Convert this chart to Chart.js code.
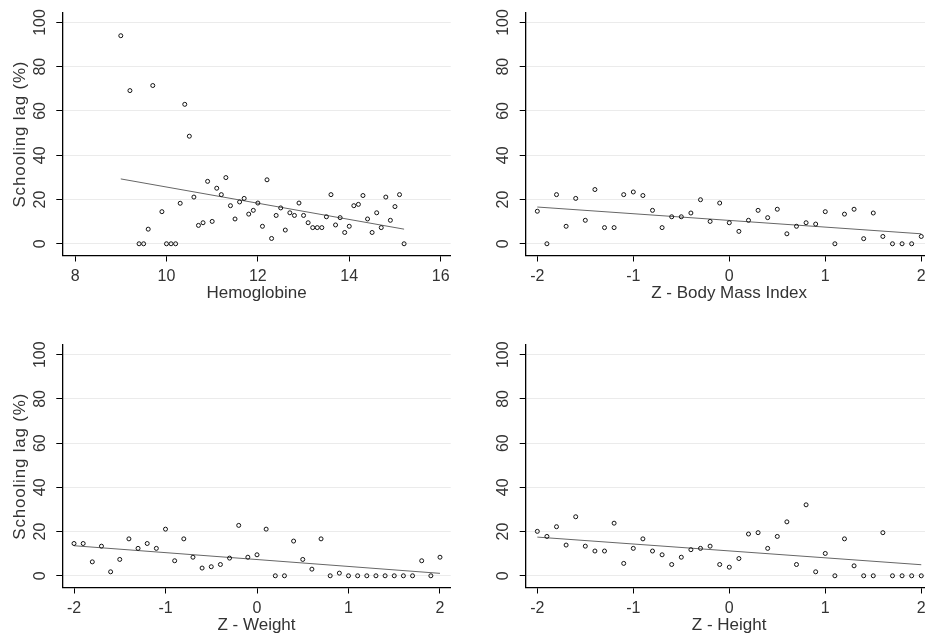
<!DOCTYPE html>
<html>
<head>
<meta charset="utf-8">
<script src="https://cdn.jsdelivr.net/npm/chart.js@4.4.1/dist/chart.umd.min.js"></script>
<style>
  html, body { margin: 0; padding: 0; background: #fff; width: 925px; height: 642px; overflow: hidden; }
  canvas { position: absolute; }
</style>
</head>
<body>
<canvas id="hbChart" width="462" height="315" style="left:0;top:0"></canvas>
<canvas id="bmiChart" width="478" height="315" style="left:462px;top:0"></canvas>
<canvas id="weightChart" width="462" height="327" style="left:0;top:315px"></canvas>
<canvas id="heightChart" width="478" height="327" style="left:462px;top:315px"></canvas>
<script>
// Hemoglobine panel
const hbX = [9.0, 9.2, 9.4, 9.5, 9.6, 9.7, 9.9, 10.0, 10.1, 10.2, 10.3, 10.4, 10.5, 10.6, 10.7, 10.8, 10.9,
  11.0, 11.1, 11.2, 11.3, 11.4, 11.5, 11.6, 11.7, 11.8, 11.9, 12.0, 12.1, 12.2, 12.3, 12.4, 12.5, 12.6, 12.7,
  12.8, 12.9, 13.0, 13.1, 13.2, 13.3, 13.4, 13.5, 13.6, 13.7, 13.8, 13.9, 14.0, 14.1, 14.2, 14.3, 14.4, 14.5,
  14.6, 14.7, 14.8, 14.9, 15.0, 15.1, 15.2];
const hbY = [94.0, 69.2, 0, 0, 6.6, 71.5, 14.5, 0, 0, 0, 18.3, 63.0, 48.6, 21.1, 8.3, 9.5, 28.2,
  10.1, 25.1, 22.2, 29.9, 17.2, 11.2, 18.9, 20.5, 13.4, 15.1, 18.4, 7.9, 28.9, 2.4, 12.8, 16.2, 6.2, 14.0,
  12.8, 18.4, 12.8, 9.5, 7.3, 7.3, 7.3, 12.2, 22.2, 8.5, 11.8, 5.1, 7.9, 17.2, 17.8, 21.8, 11.2, 5.1,
  14.0, 7.3, 21.1, 10.6, 16.8, 22.2, 0];
const hbFitX = [9.0, 15.2];
const hbFitY = [29.3, 6.6];

// Z-score panels share the same x positions
const zX = [-2.0, -1.9, -1.8, -1.7, -1.6, -1.5, -1.4, -1.3, -1.2, -1.1, -1.0, -0.9, -0.8, -0.7, -0.6, -0.5,
  -0.4, -0.3, -0.2, -0.1, 0.0, 0.1, 0.2, 0.3, 0.4, 0.5, 0.6, 0.7, 0.8, 0.9, 1.0, 1.1, 1.2, 1.3, 1.4, 1.5,
  1.6, 1.7, 1.8, 1.9, 2.0];
const zFitX = [-2, 2];

const bmiY = [14.7, 0, 22.2, 7.9, 20.5, 10.6, 24.5, 7.3, 7.3, 22.2, 23.4, 21.8, 15.1, 7.3, 12.2, 12.2,
  13.9, 19.9, 10.1, 18.4, 9.5, 5.6, 10.6, 15.1, 11.8, 15.6, 4.5, 7.9, 9.5, 8.9, 14.5, 0, 13.4, 15.6, 2.3, 13.9,
  3.3, 0, 0, 0, 3.3];
const bmiFitY = [16.6, 4.5];

const weightY = [14.6, 14.6, 6.3, 13.4, 1.8, 7.4, 16.7, 12.4, 14.6, 12.4, 21.1, 6.8, 16.7, 8.4, 3.5, 4.1,
  5.1, 8.0, 22.8, 8.4, 9.5, 21.1, 0, 0, 15.7, 7.4, 3.0, 16.7, 0, 1.2, 0, 0, 0, 0, 0, 0,
  0, 0, 6.8, 0, 8.4];
const weightFitY = [13.6, 1.1];

const heightY = [20.1, 17.8, 22.2, 13.9, 26.7, 13.4, 11.2, 11.2, 23.8, 5.6, 12.4, 16.7, 11.2, 9.5, 5.1, 8.4,
  11.8, 12.4, 13.4, 5.1, 3.9, 7.8, 18.9, 19.5, 12.4, 17.8, 24.4, 5.1, 32.1, 1.8, 10.1, 0, 16.7, 4.5, 0, 0,
  19.5, 0, 0, 0, 0];
const heightFitY = [17.5, 5.0];

// Tick labels
const yTicks = [0, 20, 40, 60, 80, 100];
const hbTicks = [8, 10, 12, 14, 16];
const zTicks = [-2, -1, 0, 1, 2];

const FONT = "'Liberation Sans', Arial, sans-serif";
const TEXT = "#333";

function toPoints(xs, ys) {
  return xs.map(function (x, i) { return { x: x, y: ys[i] }; });
}

// Build one Stata-like scatter panel with a fitted line
function makePanel(id, p) {
  const canvas = document.getElementById(id);
  const ctx = canvas.getContext("2d");
  const W = canvas.width;
  const H = canvas.height;
  const g = p.area;

  new Chart(ctx, {
    type: "scatter",
    data: {
      datasets: [
        {
          data: toPoints(p.xs, p.ys),
          pointRadius: 2,
          pointHoverRadius: 2,
          pointBorderWidth: 1,
          borderColor: "#111",
          backgroundColor: "rgba(0,0,0,0)",
        },
        {
          type: "line",
          data: toPoints(p.fitX, p.fitY),
          showLine: true,
          borderColor: "#666",
          borderWidth: 1,
          pointRadius: 0,
          fill: false,
        },
      ],
    },
    options: {
      responsive: false,
      animation: false,
      events: [],
      layout: { padding: { top: g.top, right: W - g.right, left: 0, bottom: 0 } },
      plugins: { legend: { display: false }, tooltip: { enabled: false } },
      scales: {
        x: {
          type: "linear",
          min: p.xMin,
          max: p.xMax,
          afterBuildTicks: function (s) { s.ticks = p.xTicks.map(function (v) { return { value: v }; }); },
          afterFit: function (s) { s.height = H - g.bottom; s.paddingLeft = 0; s.paddingRight = 0; },
          grid: { drawOnChartArea: false, drawTicks: true, tickLength: 6, tickColor: "#000" },
          border: { color: "#000", width: 1.3 },
          ticks: { font: { family: FONT, size: 16 }, color: TEXT, padding: 5, maxRotation: 0 },
          title: {
            display: true,
            text: p.xTitle,
            font: { family: FONT, size: 17 },
            color: TEXT,
            padding: { top: 0, bottom: p.xTitlePad },
          },
        },
        y: {
          type: "linear",
          min: -5.3,
          max: 104.4,
          afterBuildTicks: function (s) { s.ticks = yTicks.map(function (v) { return { value: v }; }); },
          afterFit: function (s) {
            s.width = g.left;
            s.paddingTop = 0;
            s.paddingBottom = 0;
            // the rotated axis title is drawn a bit wider in the original
            if (!s._spaced) {
              const drawTitle = s.drawTitle;
              s.drawTitle = function () {
                ctx.save();
                ctx.letterSpacing = "0.8px";
                drawTitle.apply(this, arguments);
                ctx.restore();
              };
              s._spaced = true;
            }
          },
          grid: { color: "#ebebeb", lineWidth: 1, drawTicks: true, tickLength: 6, tickColor: "#000" },
          border: { color: "#000", width: 1.3 },
          ticks: {
            font: { family: FONT, size: 16 },
            color: TEXT,
            padding: 2.5,
            minRotation: 90,
            maxRotation: 90,
            crossAlign: "center",
          },
          title: {
            display: p.yTitle,
            text: "Schooling lag (%)",
            font: { family: FONT, size: 17 },
            color: TEXT,
            padding: { top: 10, bottom: 0 },
          },
        },
      },
    },
  });
}

makePanel("hbChart", {
  xs: hbX, ys: hbY, fitX: hbFitX, fitY: hbFitY,
  xTicks: hbTicks, xMin: 7.72, xMax: 16.22,
  xTitle: "Hemoglobine", yTitle: true, xTitlePad: 11,
  area: { left: 62.3, top: 12.7, right: 450.7, bottom: 255.5 },
});

makePanel("bmiChart", {
  xs: zX, ys: bmiY, fitX: zFitX, fitY: bmiFitY,
  xTicks: zTicks, xMin: -2.121, xMax: 2.117,
  xTitle: "Z - Body Mass Index", yTitle: false, xTitlePad: 11,
  area: { left: 63.7, top: 12.7, right: 470.5, bottom: 255.5 },
});

makePanel("weightChart", {
  xs: zX, ys: weightY, fitX: zFitX, fitY: weightFitY,
  xTicks: zTicks, xMin: -2.128, xMax: 2.117,
  xTitle: "Z - Weight", yTitle: true, xTitlePad: 6,
  area: { left: 62.3, top: 30, right: 450.7, bottom: 272.5 },
});

makePanel("heightChart", {
  xs: zX, ys: heightY, fitX: zFitX, fitY: heightFitY,
  xTicks: zTicks, xMin: -2.121, xMax: 2.117,
  xTitle: "Z - Height", yTitle: false, xTitlePad: 6,
  area: { left: 63.7, top: 30, right: 470.5, bottom: 272.5 },
});
</script>
</body>
</html>
